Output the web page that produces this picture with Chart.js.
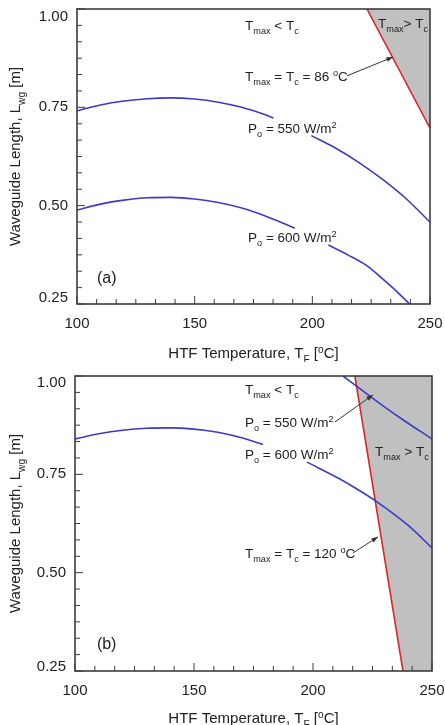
<!DOCTYPE html>
<html lang="en">
<head>
<meta charset="UTF-8" />
<title>Waveguide Length vs HTF Temperature</title>
<script src="https://cdn.jsdelivr.net/npm/chart.js"></script>
<style>
    body { margin: 0; background: #fff; }
    canvas { display: block; }
</style>
</head>
<body>
<canvas id="chartA" width="445" height="362"></canvas>
<canvas id="chartB" width="445" height="363"></canvas>
<script>
// tick labels
const xMajor = [100, 150, 200, 250];
const yMajor = [0.25, 0.50, 0.75, 1.00];
const minorPerMajor = 6;

// (a) Tc = 86 C   (null = gap left for the label)
const a550T = [100, 110, 120, 130, 140, 150, 160, 170, 180, 183.5, 190, 199.6, 210, 220, 230, 240, 250];
const a550L = [0.741, 0.756, 0.766, 0.772, 0.774, 0.771, 0.763, 0.750, 0.731, 0.723, null, 0.678, 0.646, 0.609, 0.566, 0.517, 0.458];
const a600T = [100, 110, 120, 130, 140, 150, 160, 170, 180, 192.6, 200, 206.8, 215, 223, 230, 236, 241.3];
const a600L = [0.489, 0.504, 0.514, 0.520, 0.521, 0.517, 0.508, 0.494, 0.474, 0.443, null, 0.400, 0.375, 0.348, 0.313, 0.281, 0.25];
const aEdgeT = [223.2, 250];
const aEdgeL = [1.00, 0.697];

// (b) Tc = 120 C
const b600T = [100, 110, 120, 130, 140, 150, 160, 170, 179, 190, 197.5, 211.3, 220, 226.9, 240, 250];
const b600L = [0.840, 0.853, 0.862, 0.867, 0.868, 0.865, 0.857, 0.843, 0.826, null, 0.781, 0.738, 0.707, 0.680, 0.620, 0.563];
const b550T = [212.6, 225, 237, 250];
const b550L = [1.00, 0.944, 0.892, 0.840];
const bEdgeT = [217.6, 237.8];
const bEdgeL = [1.00, 0.25];
const bShadeT = [217.6, 237.8, 250];
const bShadeL = [1.00, 0.25, 0.25];

// labels placed in data coordinates
const aNotes = [
    { x: 171.4, y: 0.959, parts: [['T'], ['max', 'sub'], [' < T'], ['c', 'sub']] },
    { x: 227.9, y: 0.964, parts: [['T'], ['max', 'sub'], ['> T'], ['c', 'sub']] },
    { x: 171.4, y: 0.830, parts: [['T'], ['max', 'sub'], [' = T'], ['c', 'sub'], [' = 86 '], ['o', 'sup'], ['C']] },
    { x: 172.7, y: 0.697, parts: [['P'], ['o', 'sub'], [' = 550 W/m'], ['2', 'sup']] },
    { x: 172.7, y: 0.420, parts: [['P'], ['o', 'sub'], [' = 600 W/m'], ['2', 'sup']] },
];
const aArrows = [{ from: [214.7, 0.830], to: [234.3, 0.878] }];
const bNotes = [
    { x: 171.4, y: 0.967, parts: [['T'], ['max', 'sub'], [' < T'], ['c', 'sub']] },
    { x: 171.4, y: 0.883, parts: [['P'], ['o', 'sub'], [' = 550 W/m'], ['2', 'sup']] },
    { x: 171.4, y: 0.802, parts: [['P'], ['o', 'sub'], [' = 600 W/m'], ['2', 'sup']] },
    { x: 226.1, y: 0.809, parts: [['T'], ['max', 'sub'], [' > T'], ['c', 'sub']] },
    { x: 171.4, y: 0.550, parts: [['T'], ['max', 'sub'], [' = T'], ['c', 'sub'], [' = 120 '], ['o', 'sup'], ['C']] },
];
const bArrows = [
    { from: [209.2, 0.883], to: [225.2, 0.952] },
    { from: [216.8, 0.550], to: [227.3, 0.591] },
];

const FONT = '"Liberation Sans", Arial, sans-serif';
const xTitle = [['HTF Temperature, T'], ['F', 'sub'], [' ['], ['o', 'sup'], ['C]']];
const yTitle = [['Waveguide Length, L'], ['wg', 'sub'], [' [m]']];

function pts(xs, ys) {
    return xs.map((v, i) => ({ x: v, y: ys[i] }));
}

function drawRich(ctx, x, y, parts, size, align) {
    const small = size * 0.68;
    let w = 0;
    parts.forEach(([t, m]) => {
        ctx.font = (m ? small : size) + 'px ' + FONT;
        w += ctx.measureText(t).width;
    });
    let cx = align === 'center' ? x - w / 2 : x;
    ctx.textAlign = 'left';
    ctx.textBaseline = 'alphabetic';
    parts.forEach(([t, m]) => {
        ctx.font = (m ? small : size) + 'px ' + FONT;
        const dy = m === 'sub' ? size * 0.28 : m === 'sup' ? -size * 0.38 : 0;
        ctx.fillText(t, cx, y + size * 0.36 + dy);
        cx += ctx.measureText(t).width;
    });
}

function arrow(ctx, x0, y0, x1, y1) {
    const ang = Math.atan2(y1 - y0, x1 - x0);
    ctx.beginPath();
    ctx.moveTo(x0, y0);
    ctx.lineTo(x1, y1);
    ctx.stroke();
    ctx.beginPath();
    ctx.moveTo(x1, y1);
    ctx.lineTo(x1 - 7 * Math.cos(ang - 0.35), y1 - 7 * Math.sin(ang - 0.35));
    ctx.lineTo(x1 - 7 * Math.cos(ang + 0.35), y1 - 7 * Math.sin(ang + 0.35));
    ctx.closePath();
    ctx.fill();
}

// frame, inward ticks, labels, axis titles
const decor = {
    id: 'decor',
    afterDatasetsDraw(chart, args, opts) {
        const { ctx, chartArea: a, scales: { x, y } } = chart;
        ctx.save();
        ctx.strokeStyle = '#3c3c3c';
        ctx.lineWidth = 1;
        for (let i = 0; i < xMajor.length; i++) {
            const px = x.getPixelForValue(xMajor[i]);
            ctx.beginPath(); ctx.moveTo(px, a.bottom); ctx.lineTo(px, a.bottom - 8); ctx.stroke();
            if (i < xMajor.length - 1) {
                for (let k = 1; k < minorPerMajor; k++) {
                    const v = xMajor[i] + (xMajor[i + 1] - xMajor[i]) * k / minorPerMajor;
                    const q = x.getPixelForValue(v);
                    ctx.beginPath(); ctx.moveTo(q, a.bottom); ctx.lineTo(q, a.bottom - 5); ctx.stroke();
                }
            }
        }
        for (let i = 0; i < yMajor.length; i++) {
            const py = y.getPixelForValue(yMajor[i]);
            ctx.beginPath(); ctx.moveTo(a.left, py); ctx.lineTo(a.left + 8, py); ctx.stroke();
            if (i < yMajor.length - 1) {
                for (let k = 1; k < minorPerMajor; k++) {
                    const v = yMajor[i] + (yMajor[i + 1] - yMajor[i]) * k / minorPerMajor;
                    const q = y.getPixelForValue(v);
                    ctx.beginPath(); ctx.moveTo(a.left, q); ctx.lineTo(a.left + 5, q); ctx.stroke();
                }
            }
        }
        ctx.lineWidth = 1.6;
        ctx.strokeRect(a.left, a.top, a.right - a.left, a.bottom - a.top);

        // y tick labels, end ones pulled inside the frame
        ctx.fillStyle = '#222';
        ctx.font = '15px ' + FONT;
        ctx.textAlign = 'right';
        ctx.textBaseline = 'middle';
        yMajor.forEach((v, i) => {
            let py = y.getPixelForValue(v);
            if (i === 0) py -= opts.nudgeLow;
            if (i === yMajor.length - 1) py += opts.nudgeHigh;
            ctx.fillText(v.toFixed(2), a.left - 9, py);
        });

        opts.notes.forEach((n) => {
            drawRich(ctx, x.getPixelForValue(n.x), y.getPixelForValue(n.y), n.parts, 13.5, 'left');
        });
        drawRich(ctx, x.getPixelForValue(opts.tag.x), y.getPixelForValue(opts.tag.y), [[opts.tag.text]], 16, 'left');

        ctx.strokeStyle = '#333';
        ctx.fillStyle = '#333';
        ctx.lineWidth = 1;
        opts.arrows.forEach((r) => {
            arrow(ctx, x.getPixelForValue(r.from[0]), y.getPixelForValue(r.from[1]),
                x.getPixelForValue(r.to[0]), y.getPixelForValue(r.to[1]));
        });

        ctx.fillStyle = '#222';
        drawRich(ctx, (a.left + a.right) / 2, chart.height - opts.titleGap, xTitle, 15, 'center');
        ctx.translate(15, (a.top + a.bottom) / 2);
        ctx.rotate(-Math.PI / 2);
        drawRich(ctx, 0, 0, yTitle, 15, 'center');
        ctx.restore();
    },
};

function line(data, color) {
    return { data, borderColor: color, borderWidth: 1.6, pointRadius: 0, fill: false, cubicInterpolationMode: 'monotone' };
}

function makeChart(id, datasets, box, notes, arrows, tag) {
    return new Chart(document.getElementById(id), {
        type: 'line',
        data: { datasets },
        options: {
            responsive: false,
            animation: false,
            layout: { padding: { top: box.top, right: box.right, bottom: 0, left: 0 } },
            plugins: {
                legend: { display: false },
                tooltip: { enabled: false },
                decor: { notes, arrows, tag, titleGap: box.titleGap, nudgeHigh: box.nudgeHigh, nudgeLow: box.nudgeLow },
            },
            scales: {
                x: {
                    type: 'linear',
                    min: 100,
                    max: 250,
                    grid: { display: false, drawTicks: false },
                    border: { display: false },
                    afterBuildTicks: (s) => { s.ticks = xMajor.map((v) => ({ value: v })); },
                    afterFit: (s) => {
                        s.height = box.xh;
                        s.paddingLeft = 0;
                        s.paddingRight = 0;
                    },
                    ticks: {
                        padding: 11,
                        color: '#222',
                        font: { family: FONT, size: 15 },
                        callback: (v) => String(v),
                        maxRotation: 0,
                    },
                },
                y: {
                    min: 0.25,
                    max: 1.0,
                    grid: { display: false, drawTicks: false },
                    border: { display: false },
                    afterBuildTicks: (s) => { s.ticks = yMajor.map((v) => ({ value: v })); },
                    afterFit: (s) => {
                        s.width = box.yw;
                        s.paddingTop = 0;
                        s.paddingBottom = 0;
                    },
                    ticks: { display: false },
                },
            },
        },
        plugins: [decor],
    });
}

const BLUE = '#3b3bc4';
const RED = '#d42a2a';
const GREY = '#c0c0c0';

makeChart('chartA', [
    line(pts(a550T, a550L), BLUE),
    line(pts(a600T, a600L), BLUE),
    { data: pts(aEdgeT, aEdgeL), borderColor: RED, borderWidth: 1.6, pointRadius: 0, fill: 'end', backgroundColor: GREY },
], { top: 9, right: 15, xh: 58, yw: 77, titleGap: 9, nudgeHigh: 8, nudgeLow: 6 }, aNotes, aArrows, { x: 108.5, y: 0.319, text: '(a)' });

makeChart('chartB', [
    line(pts(b550T, b550L), BLUE),
    line(pts(b600T, b600L), BLUE),
    { data: pts(bEdgeT, bEdgeL), borderColor: RED, borderWidth: 1.6, pointRadius: 0, fill: false },
    { data: pts(bShadeT, bShadeL), borderWidth: 0, borderColor: 'rgba(0,0,0,0)', pointRadius: 0, fill: 'end', backgroundColor: GREY },
], { top: 14, right: 13, xh: 54, yw: 75, titleGap: 7, nudgeHigh: 7, nudgeLow: 4 }, bNotes, bArrows, { x: 109.2, y: 0.321, text: '(b)' });
</script>
</body>
</html>
